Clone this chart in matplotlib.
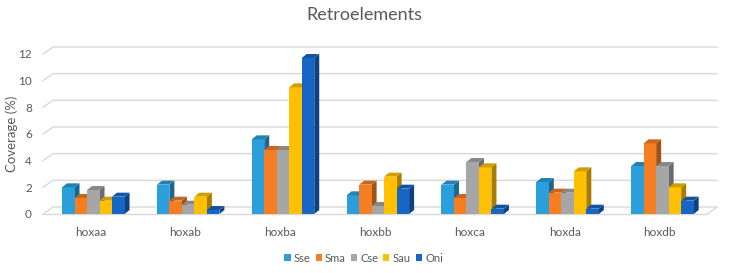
import numpy as np
import matplotlib
matplotlib.use("Agg")
import matplotlib.pyplot as plt
from matplotlib.patches import Polygon, Patch
from matplotlib.colors import to_rgb

plt.rcParams["font.family"] = ["Lato", "DejaVu Sans"]

# Data
categories = ["hoxaa", "hoxab", "hoxba", "hoxbb", "hoxca", "hoxda", "hoxdb"]
series = ["Sse", "Sma", "Cse", "Sau", "Oni"]
sse = [2.0, 2.2, 5.6, 1.4, 2.2, 2.4, 3.6]
sma = [1.2, 1.0, 4.8, 2.2, 1.2, 1.6, 5.3]
cse = [1.8, 0.7, 4.8, 0.6, 3.9, 1.6, 3.6]
sau = [1.0, 1.3, 9.5, 2.8, 3.5, 3.2, 2.0]
oni = [1.3, 0.3, 11.7, 1.9, 0.4, 0.4, 1.0]
values = [sse, sma, cse, sau, oni]
colors = ["#2A9FDC", "#F57D22", "#A6A6A6", "#FFC000", "#1666C5"]

W, H = 729, 273
fig = plt.figure(figsize=(W / 100, H / 100), dpi=100)
ax_l, ax_r, ax_b, ax_t = 43, 707, 214, 54
ax = fig.add_axes([ax_l / W, (H - ax_b) / H, (ax_r - ax_l) / W, (ax_b - ax_t) / H])

ax.set_xlim(-0.5, len(categories) - 0.5)
ax.set_ylim(0, 12)

px_x = (ax_r - ax_l) / len(categories)
px_y = (ax_b - ax_t) / 12.0

def shade(c, f):
    r, g, b = to_rgb(c)
    return (r * f, g * f, b * f)

# back-wall gridlines (3D look)
wall_dx, wall_dy = 10 / px_x, 7 / px_y
x0, x1 = -0.5, len(categories) - 0.5
for v in range(0, 13, 2):
    ax.plot([x0, x0 + wall_dx, x1 + wall_dx], [v, v + wall_dy, v + wall_dy],
            color="#D9D9D9", lw=1, zorder=0, clip_on=False)
ax.plot([x0, x1], [0, 0], color="#D9D9D9", lw=1, zorder=0, clip_on=False)
ax.plot([x1, x1 + wall_dx], [0, wall_dy], color="#D9D9D9", lw=1, zorder=0, clip_on=False)

# bars
bw = 12.5 / px_x
dx, dy = 5 / px_x, 4 / px_y
x = np.arange(len(categories)) + 0.03
for i, (vals, c) in enumerate(zip(values, colors)):
    xs = x + (i - 2) * bw
    ax.bar(xs, vals, width=bw, color=c, zorder=2 + i * 0.01, clip_on=False)
    for xi, v in zip(xs, vals):
        left, right = xi - bw / 2, xi + bw / 2
        top = Polygon([[left, v], [right, v], [right + dx, v + dy], [left + dx, v + dy]],
                      closed=True, facecolor=shade(c, 0.82), edgecolor="none",
                      zorder=2 + i * 0.01, clip_on=False)
        side = Polygon([[right, 0], [right + dx, dy], [right + dx, v + dy], [right, v]],
                       closed=True, facecolor=shade(c, 0.65), edgecolor="none",
                       zorder=2 + i * 0.01 - 0.005, clip_on=False)
        ax.add_patch(top)
        ax.add_patch(side)

for s in ax.spines.values():
    s.set_visible(False)
ax.set_yticks(range(0, 13, 2))
ax.set_xticks(np.arange(len(categories)))
ax.set_xticklabels(categories)
ax.tick_params(axis="both", length=0, labelsize=8.5, colors="#595959")
ax.tick_params(axis="x", pad=9)
ax.tick_params(axis="y", pad=8)

fig.text(12 / W, 1 - 134 / H, "Coverage (%)", rotation=90, ha="center", va="center",
         fontsize=9.5, color="#595959")
fig.text(0.5, 1 - 15 / H, "Retroelements", ha="center", va="center",
         fontsize=13, color="#595959")

handles = [Patch(facecolor=c, label=s) for s, c in zip(series, colors)]
fig.legend(handles=handles, loc="center", bbox_to_anchor=(0.499, 1 - 258 / H), ncol=5,
           frameon=False, fontsize=8, handlelength=0.55, handleheight=0.55,
           handletextpad=0.3, columnspacing=0.45, labelcolor="#595959")

fig.savefig("out.png", dpi=100)
